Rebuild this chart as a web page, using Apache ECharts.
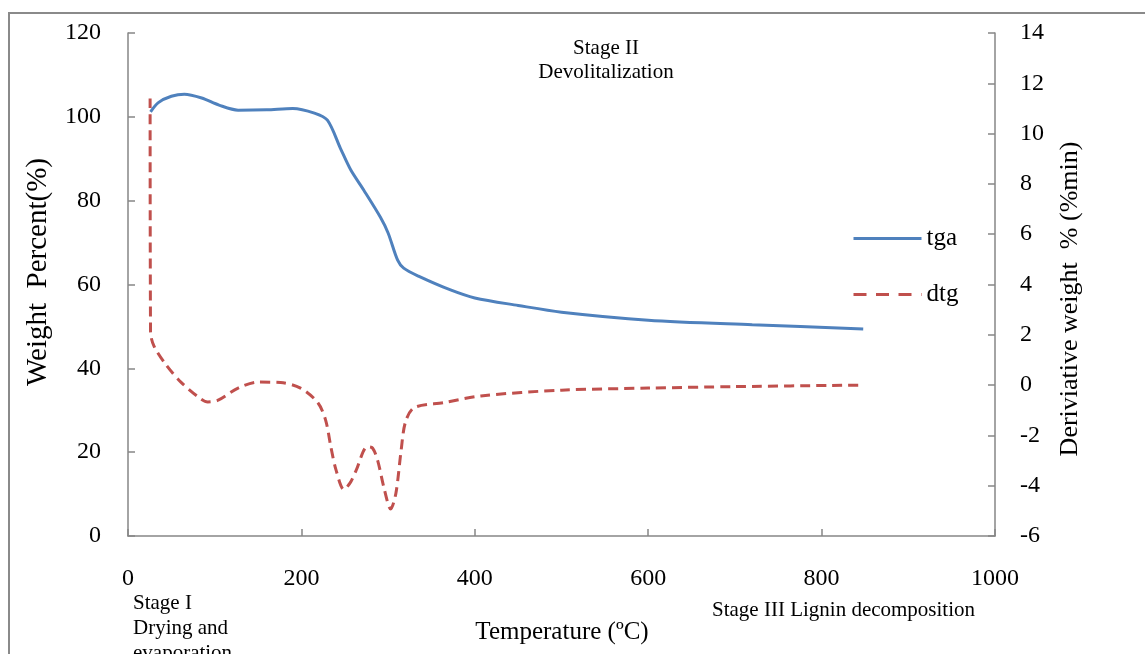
<!doctype html>
<html>
<head>
<meta charset="utf-8">
<title>TGA / DTG</title>
<style>
  html, body { margin: 0; padding: 0; background: #fff; }
  #main { width: 1145px; height: 654px; }
</style>
</head>
<body>
<div id="main"></div>
<script src="https://cdn.jsdelivr.net/npm/echarts@6/dist/echarts.min.js"></script>
<script>
// temperature (C) and weight percent for the tga curve
var tgaTemp = [26, 35, 50, 65, 85, 105, 127, 160, 190, 215, 230, 245, 257, 272, 291, 300, 311, 318, 335, 372, 400, 450, 500, 600, 720, 848];
var tgaWeight = [101.2, 103.4, 104.9, 105.4, 104.5, 102.8, 101.6, 101.7, 102.0, 100.9, 99.2, 92.5, 87.3, 82.5, 76.1, 72.3, 65.8, 63.9, 62.0, 58.7, 56.8, 55.0, 53.4, 51.5, 50.4, 49.4];

// temperature (C) and derivative weight for the dtg curve
var dtgTemp = [25.5, 26, 30, 44, 61, 81, 92, 104, 127, 150, 176, 199, 219, 228, 234, 240, 249, 256, 263, 276, 282, 288, 295, 303, 309, 315, 320, 330, 364, 407, 500, 600, 700, 848];
var dtgRate = [11.4, 2.1, 1.55, 0.8, 0.12, -0.47, -0.67, -0.6, -0.12, 0.12, 0.1, -0.12, -0.7, -1.4, -2.46, -3.38, -4.15, -3.9, -3.4, -2.45, -2.5, -3.0, -4.05, -4.93, -4.3, -2.6, -1.47, -0.9, -0.7, -0.43, -0.2, -0.12, -0.06, 0.0];

var xTicks = [0, 1000, 200];
var leftTicks = [0, 120, 20];
var rightTicks = [-6, 14, 2];

var serif = 'Liberation Serif';
var axisGray = '#868686';

function pairs(xs, ys) {
    return xs.map(function (x, i) { return [x, ys[i]]; });
}

function plain(v) {
    return String(v);
}

function axisStyle(extra) {
    var base = {
        axisLine: { show: true, lineStyle: { color: axisGray, width: 1.5 } },
        axisTick: { show: true, inside: true, length: 7, lineStyle: { color: axisGray, width: 1.5 } },
        splitLine: { show: false }
    };
    for (var k in extra) {
        base[k] = extra[k];
    }
    return base;
}

var chart = echarts.init(document.getElementById('main'));

chart.setOption({
    backgroundColor: '#fff',
    animation: false,
    grid: { left: 128, right: 150, top: 33, bottom: 118 },
    xAxis: axisStyle({
        type: 'value',
        min: xTicks[0], max: xTicks[1], interval: xTicks[2],
        axisLabel: { fontFamily: serif, fontSize: 24, color: '#000', margin: 31, formatter: plain }
    }),
    yAxis: [
        axisStyle({
            type: 'value', position: 'left',
            min: leftTicks[0], max: leftTicks[1], interval: leftTicks[2],
            axisLabel: { fontFamily: serif, fontSize: 24, color: '#000', margin: 27, formatter: plain }
        }),
        axisStyle({
            type: 'value', position: 'right',
            min: rightTicks[0], max: rightTicks[1], interval: rightTicks[2],
            axisLabel: { fontFamily: serif, fontSize: 24, color: '#000', margin: 25, formatter: plain }
        })
    ],
    legend: {
        orient: 'vertical',
        left: 847,
        top: 221,
        itemWidth: 68,
        itemHeight: 14,
        itemGap: 31,
        itemStyle: { opacity: 0 },
        lineStyle: { width: 3 },
        textStyle: { fontFamily: serif, fontSize: 25, color: '#000' },
        data: [
            { name: 'tga' },
            { name: 'dtg', lineStyle: { width: 3, type: [13, 9.5] } }
        ]
    },
    series: [
        {
            name: 'tga',
            type: 'line',
            yAxisIndex: 0,
            data: pairs(tgaTemp, tgaWeight),
            smooth: 0.3,
            symbol: 'none',
            lineStyle: { color: '#4F81BD', width: 3 },
            itemStyle: { color: '#4F81BD' }
        },
        {
            name: 'dtg',
            type: 'line',
            yAxisIndex: 1,
            data: pairs(dtgTemp, dtgRate),
            smooth: 0.3,
            symbol: 'none',
            lineStyle: { color: '#C0504D', width: 3, type: [10, 6] },
            itemStyle: { color: '#C0504D' }
        }
    ],
    graphic: [
        {
            type: 'rect', silent: true,
            shape: { x: 9, y: 13, width: 1200, height: 700 },
            style: { fill: 'none', stroke: '#8a8a8a', lineWidth: 2 }
        },
        {
            type: 'text', x: 38, y: 272, rotation: Math.PI / 2,
            style: { text: 'Weight  Percent(%)', font: '29px "Liberation Serif"', fill: '#000', textAlign: 'center', textVerticalAlign: 'middle' }
        },
        {
            type: 'text', x: 1070, y: 299, rotation: Math.PI / 2,
            style: { text: 'Deriviative weight  % (%min)', font: '26px "Liberation Serif"', fill: '#000', textAlign: 'center', textVerticalAlign: 'middle' }
        },
        {
            type: 'text', x: 562, y: 632,
            style: { text: 'Temperature (\u00baC)', font: '25px "Liberation Serif"', fill: '#000', textAlign: 'center', textVerticalAlign: 'middle' }
        },
        {
            type: 'text', x: 606, y: 60,
            style: { text: 'Stage II\nDevolitalization', font: '21px "Liberation Serif"', lineHeight: 24, fill: '#000', textAlign: 'center', textVerticalAlign: 'middle' }
        },
        {
            type: 'text', x: 133, y: 591,
            style: { text: 'Stage I\nDrying and\nevaporation', font: '21px "Liberation Serif"', lineHeight: 25, fill: '#000', textAlign: 'left', textVerticalAlign: 'top' }
        },
        {
            type: 'text', x: 712, y: 610,
            style: { text: 'Stage III Lignin decomposition', font: '21px "Liberation Serif"', fill: '#000', textAlign: 'left', textVerticalAlign: 'middle' }
        }
    ]
});

window.addEventListener('resize', function () {
    chart.resize();
});
</script>
</body>
</html>
